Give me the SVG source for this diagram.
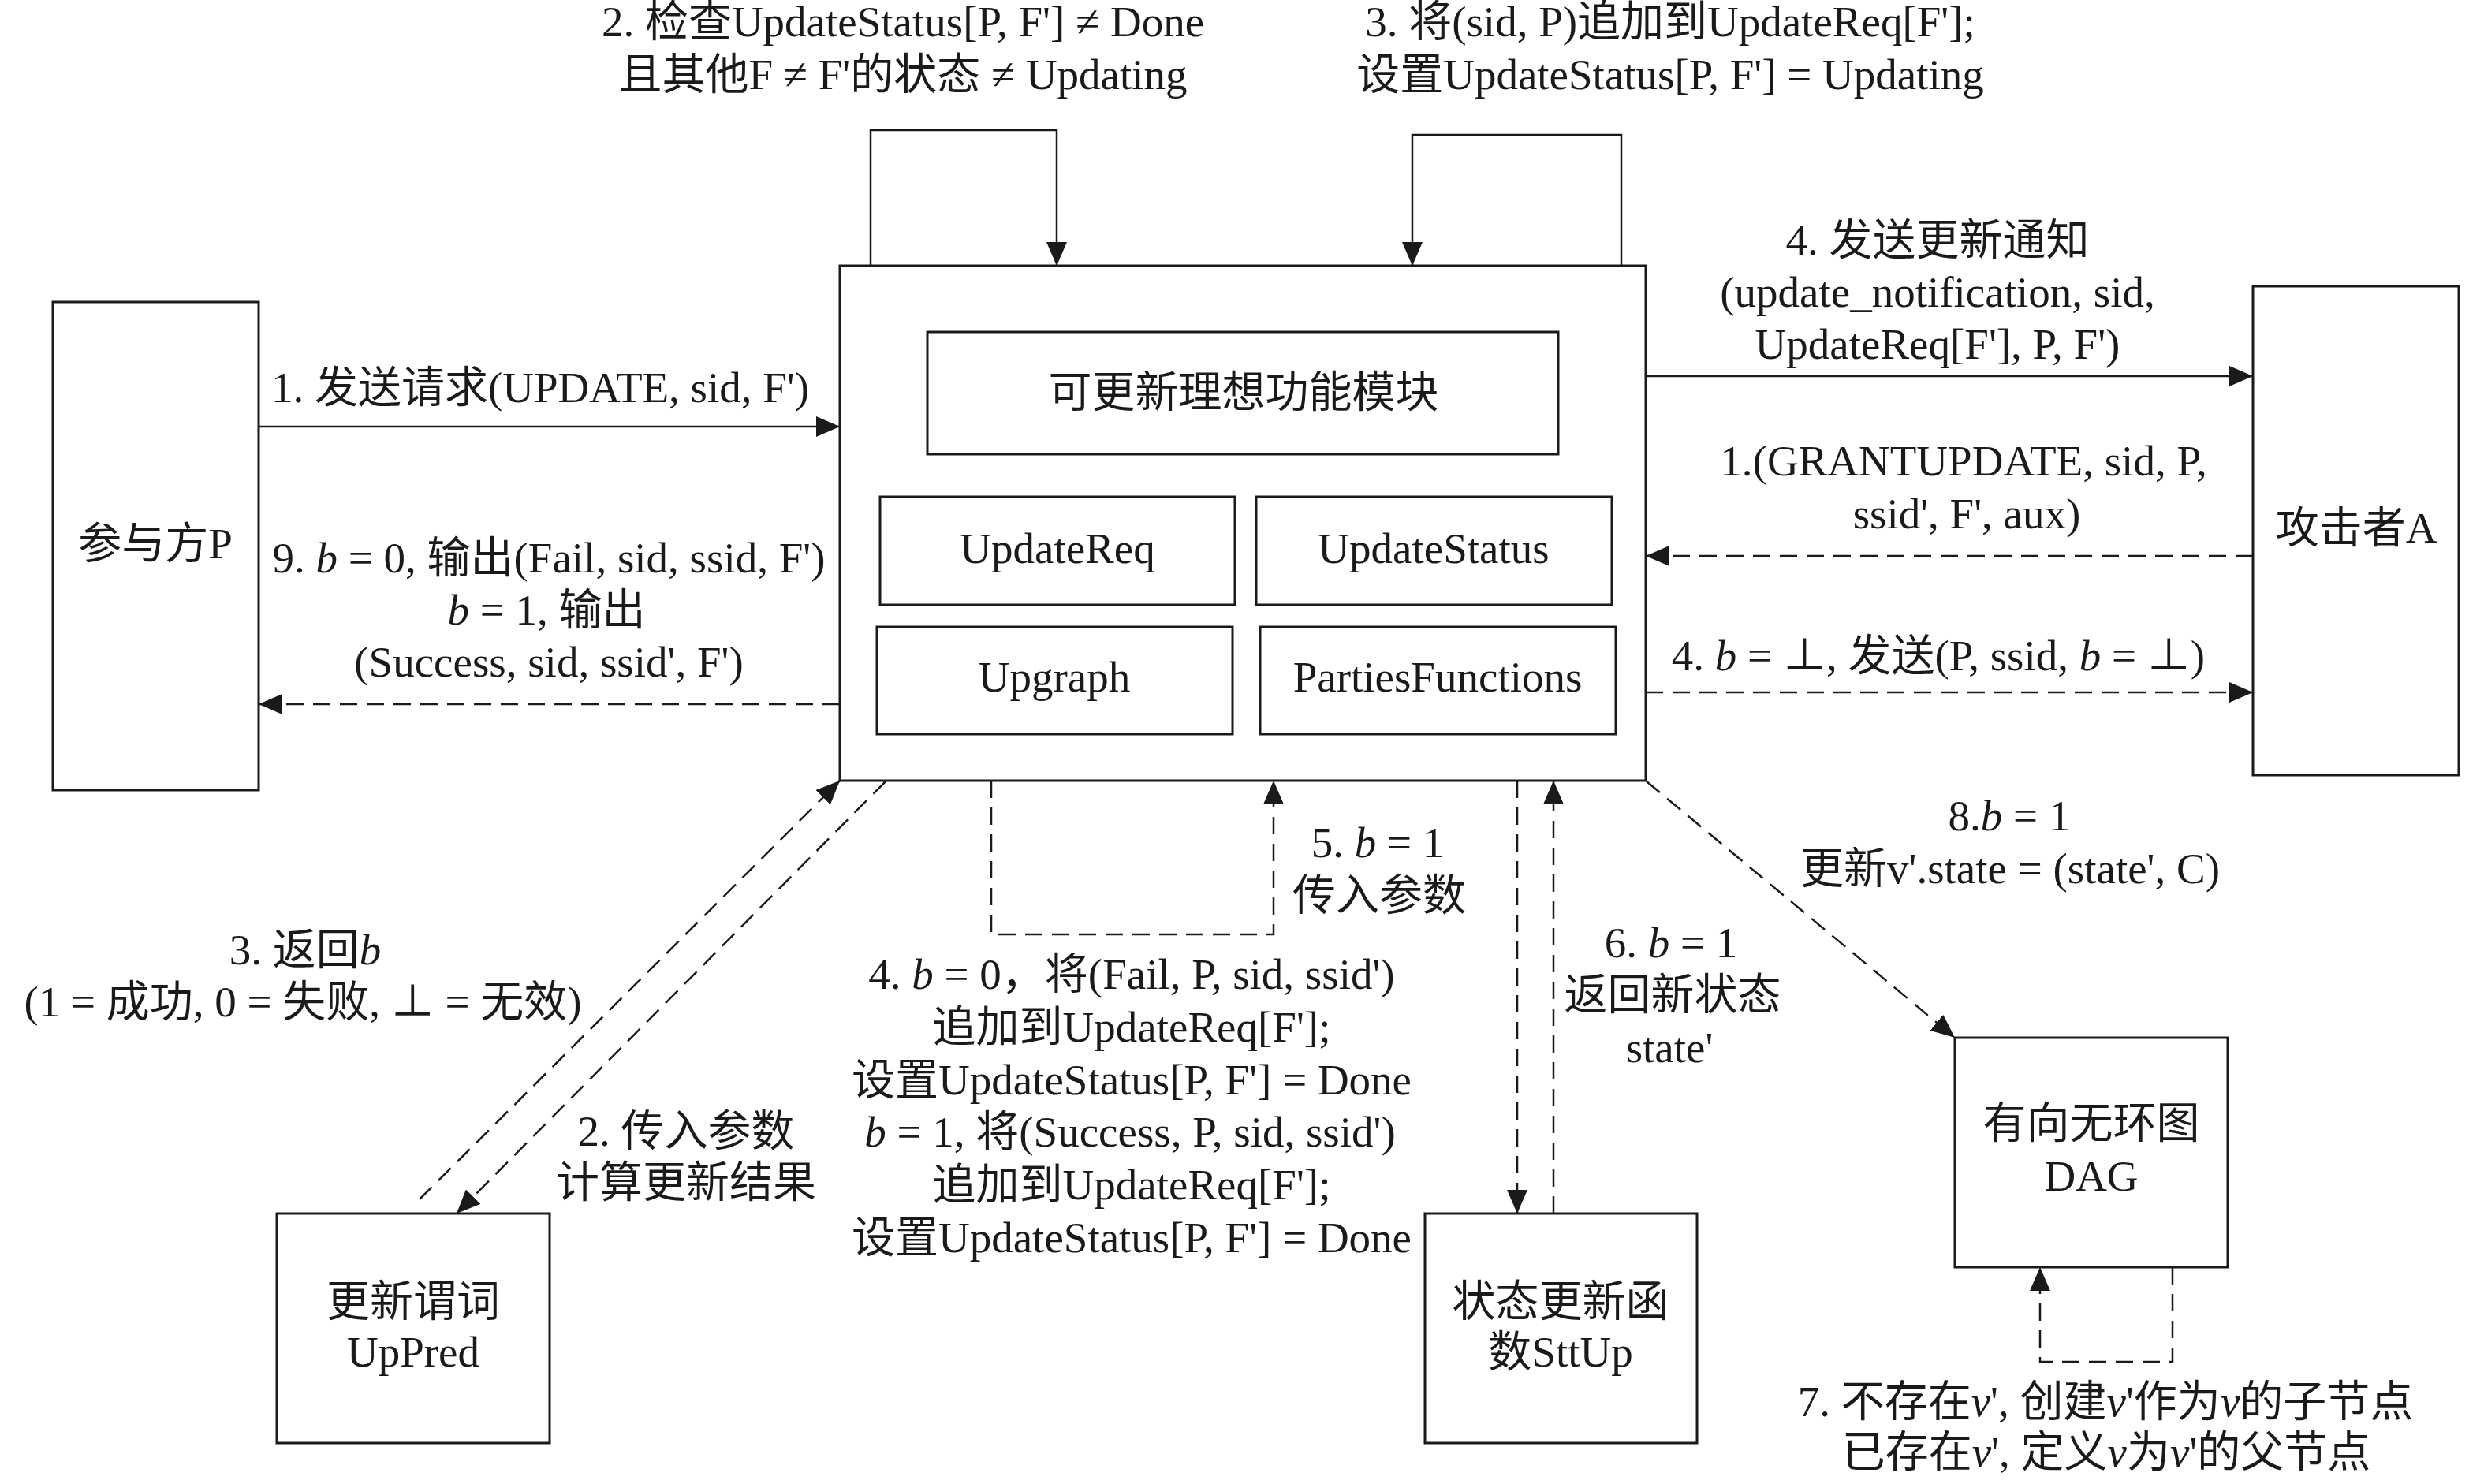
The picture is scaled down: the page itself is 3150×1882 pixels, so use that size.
<svg xmlns="http://www.w3.org/2000/svg" width="3150" height="1882" viewBox="0 0 3150 1882">
<defs>
<marker id="ah" markerUnits="userSpaceOnUse" markerWidth="30" markerHeight="26" refX="30" refY="13" orient="auto" viewBox="0 0 30 26"><path d="M0,0 L30,13 L0,26 z" fill="#1a1a1a"/></marker>
</defs>
<style>
.box{fill:#fff;stroke:#1a1a1a;stroke-width:3}
.ln{fill:none;stroke:#1a1a1a;stroke-width:2.5}
.ds{fill:none;stroke:#1a1a1a;stroke-width:2.5;stroke-dasharray:22,12}
text{font-family:"Liberation Serif","Noto Sans CJK SC",serif;font-size:55px;fill:#1a1a1a;text-anchor:middle}
.i{font-style:italic}
</style>
<rect width="3150" height="1882" fill="#fff"/>

<g id="connectors">
<line class="ln" x1="328" y1="541" x2="1065" y2="541" marker-end="url(#ah)"/>
<line class="ds" x1="1065" y1="893" x2="328" y2="893" marker-end="url(#ah)"/>
<line class="ln" x1="2087" y1="477" x2="2857" y2="477" marker-end="url(#ah)"/>
<line class="ds" x1="2857" y1="705" x2="2087" y2="705" marker-end="url(#ah)"/>
<line class="ds" x1="2087" y1="878" x2="2857" y2="878" marker-end="url(#ah)"/>
<polyline class="ln" points="1104,337 1104,165 1340,165 1340,337" marker-end="url(#ah)"/>
<polyline class="ln" points="2056,337 2056,171 1791,171 1791,337" marker-end="url(#ah)"/>
<line class="ds" x1="532" y1="1521" x2="1065" y2="990" marker-end="url(#ah)"/>
<line class="ds" x1="1123" y1="991" x2="579" y2="1539" marker-end="url(#ah)"/>
<polyline class="ds" points="1257,990 1257,1185 1615,1185 1615,990" marker-end="url(#ah)"/>
<line class="ds" x1="1924" y1="990" x2="1924" y2="1539" marker-end="url(#ah)"/>
<line class="ds" x1="1970" y1="1539" x2="1970" y2="990" marker-end="url(#ah)"/>
<line class="ds" x1="2088" y1="991" x2="2479" y2="1316" marker-end="url(#ah)"/>
<polyline class="ds" points="2755,1607 2755,1727 2587,1727 2587,1607" marker-end="url(#ah)"/>
</g>

<g id="participant">
<rect class="box" x="67" y="383" width="261" height="619"/>
<text x="197" y="708">参与方P</text>
</g>
<g id="attacker">
<rect class="box" x="2857" y="363" width="261" height="620"/>
<text x="2988" y="688">攻击者A</text>
</g>
<g id="main">
<rect class="box" x="1065" y="337" width="1022" height="653"/>
</g>
<g id="title-module">
<rect class="box" x="1176" y="421" width="800" height="155"/>
<text x="1577" y="516">可更新理想功能模块</text>
</g>
<g id="updatereq">
<rect class="box" x="1116" y="630" width="450" height="137"/>
<text x="1341" y="714">UpdateReq</text>
</g>
<g id="updatestatus">
<rect class="box" x="1593" y="630" width="451" height="137"/>
<text x="1818" y="714">UpdateStatus</text>
</g>
<g id="upgraph">
<rect class="box" x="1112" y="795" width="451" height="136"/>
<text x="1337" y="877">Upgraph</text>
</g>
<g id="partiesfunctions">
<rect class="box" x="1598" y="795" width="451" height="136"/>
<text x="1823" y="877">PartiesFunctions</text>
</g>
<g id="uppred">
<rect class="box" x="351" y="1539" width="346" height="291"/>
<text x="524" y="1669">更新谓词</text>
<text x="524" y="1733">UpPred</text>
</g>
<g id="sttup">
<rect class="box" x="1807" y="1539" width="345" height="291"/>
<text x="1979" y="1669">状态更新函</text>
<text x="1979" y="1733">数SttUp</text>
</g>
<g id="dag">
<rect class="box" x="2479" y="1316" width="346" height="291"/>
<text x="2652" y="1443">有向无环图</text>
<text x="2652" y="1510">DAG</text>
</g>

<g id="labels">
<text x="685" y="510">1. 发送请求(UPDATE, sid, F')</text>
<text x="1145" y="46">2. 检查UpdateStatus[P, F'] ≠ Done</text>
<text x="1145" y="113">且其他F ≠ F'的状态 ≠ Updating</text>
<text x="2118" y="46">3. 将(sid, P)追加到UpdateReq[F'];</text>
<text x="2118" y="113">设置UpdateStatus[P, F'] = Updating</text>
<text x="2457" y="323">4. 发送更新通知</text>
<text x="2457" y="389">(update_notification, sid,</text>
<text x="2457" y="455">UpdateReq[F'], P, F')</text>
<text x="2490" y="603">1.(GRANTUPDATE, sid, P,</text>
<text x="2494" y="670">ssid', F', aux)</text>
<text x="2458" y="850">4. <tspan class="i">b</tspan> = ⊥, 发送(P, ssid, <tspan class="i">b</tspan> = ⊥)</text>
<text x="696" y="726">9. <tspan class="i">b</tspan> = 0, 输出(Fail, sid, ssid, F')</text>
<text x="693" y="792"><tspan class="i">b</tspan> = 1, 输出</text>
<text x="696" y="858">(Success, sid, ssid', F')</text>
<text x="387" y="1223">3. 返回<tspan class="i">b</tspan></text>
<text x="384" y="1289">(1 = 成功, 0 = 失败, ⊥ = 无效)</text>
<text x="870" y="1453">2. 传入参数</text>
<text x="870" y="1518">计算更新结果</text>
<text x="1747" y="1087">5. <tspan class="i">b</tspan> = 1</text>
<text x="1749" y="1154">传入参数</text>
<text x="1435" y="1254">4. <tspan class="i">b</tspan> = 0，将(Fail, P, sid, ssid')</text>
<text x="1435" y="1321">追加到UpdateReq[F'];</text>
<text x="1435" y="1388">设置UpdateStatus[P, F'] = Done</text>
<text x="1433" y="1454"><tspan class="i">b</tspan> = 1, 将(Success, P, sid, ssid')</text>
<text x="1435" y="1521">追加到UpdateReq[F'];</text>
<text x="1435" y="1588">设置UpdateStatus[P, F'] = Done</text>
<text x="2119" y="1214">6. <tspan class="i">b</tspan> = 1</text>
<text x="2121" y="1280">返回新状态</text>
<text x="2117" y="1347">state'</text>
<text x="2548" y="1053">8.<tspan class="i">b</tspan> = 1</text>
<text x="2549" y="1120">更新v'.state = (state', C)</text>
<text x="2670" y="1796">7. 不存在<tspan class="i">v</tspan>', 创建<tspan class="i">v</tspan>'作为<tspan class="i">v</tspan>的子节点</text>
<text x="2671" y="1860">已存在<tspan class="i">v</tspan>', 定义<tspan class="i">v</tspan>为<tspan class="i">v</tspan>'的父节点</text>
</g>
</svg>
